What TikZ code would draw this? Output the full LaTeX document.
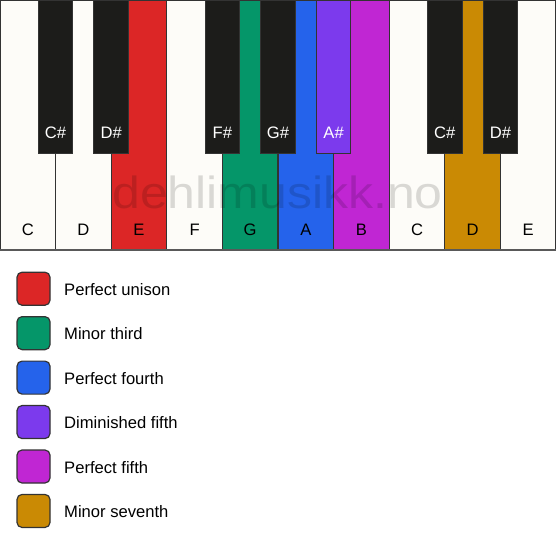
\documentclass[tikz,border=0pt]{standalone}
\usepackage{fontspec}
\setmainfont{Liberation Sans}
\definecolor{kwhite}{HTML}{FDFCF8}
\definecolor{kblack}{HTML}{1C1C1A}
\definecolor{kred}{HTML}{DC2626}
\definecolor{kgreen}{HTML}{059669}
\definecolor{kblue}{HTML}{2563EB}
\definecolor{kviolet}{HTML}{7C3AED}
\definecolor{kfuchsia}{HTML}{C026D3}
\definecolor{kyellow}{HTML}{CA8A04}
\definecolor{kedge}{HTML}{333333}
\tikzset{
  whitekey/.style={draw=kedge,line width=1.2pt},
  blackkey/.style={draw=kedge,line width=1pt},
  wlabel/.style={font=\fontsize{16.6}{16.6}\selectfont,text=black,inner sep=0pt},
  blabel/.style={font=\fontsize{16.6}{16.6}\selectfont,text=white,inner sep=0pt},
  swatch/.style={draw=kedge,line width=1.2pt,rounded corners=5pt,minimum width=33pt,minimum height=33pt,inner sep=0pt},
  legtext/.style={font=\fontsize{16.6}{16.6}\selectfont,anchor=west,inner sep=0pt},
}
\begin{document}
\begin{tikzpicture}[x=1pt,y=-1pt]
\useasboundingbox (0,0) rectangle (556,550);
\fill[white] (0,0) rectangle (556,550);
% white keys
\def\kw{55.6}
\foreach \i/\c/\n in {0/kwhite/C,1/kwhite/D,2/kred/E,3/kwhite/F,4/kgreen/G,5/kblue/A,6/kfuchsia/B,7/kwhite/C,8/kyellow/D,9/kwhite/E}{
  \draw[whitekey,fill=\c] ({\i*\kw},0) rectangle ({(\i+1)*\kw},250);
  \node[wlabel] (w\i) at ({(\i+0.5)*\kw},230) {\n};
}
% watermark
\node[font=\fontsize{45}{45}\selectfont,text=black,opacity=0.14,xscale=1.11,inner sep=0pt] (wm) at (277.5,192) {dehlimusikk.no};
% bottom line
\draw[draw=black!65,line width=2pt] (0,250) -- (556,250);
% black keys
\foreach \i/\c/\n in {1/kblack/C\#,2/kblack/D\#,4/kblack/F\#,5/kblack/G\#,6/kviolet/A\#,8/kblack/C\#,9/kblack/D\#}{
  \draw[blackkey,fill=\c] ({\i*\kw-17.3},0) rectangle ({\i*\kw+17.3},153);
  \node[blabel] (b\i) at ({\i*\kw},133) {\n};
}
% top border
\draw[kedge,line width=1.5pt] (0,0) -- (556,0);
% legend
\foreach \k/\c/\t in {0/kred/Perfect unison,1/kgreen/Minor third,2/kblue/Perfect fourth,3/kviolet/Diminished fifth,4/kfuchsia/Perfect fifth,5/kyellow/Minor seventh}{
  \node[swatch,fill=\c] (s\k) at (33.5,{288.7+\k*44.45}) {};
  \node[legtext] (t\k) at (64,{289.5+\k*44.45}) {\t};
}
\end{tikzpicture}
\end{document}
